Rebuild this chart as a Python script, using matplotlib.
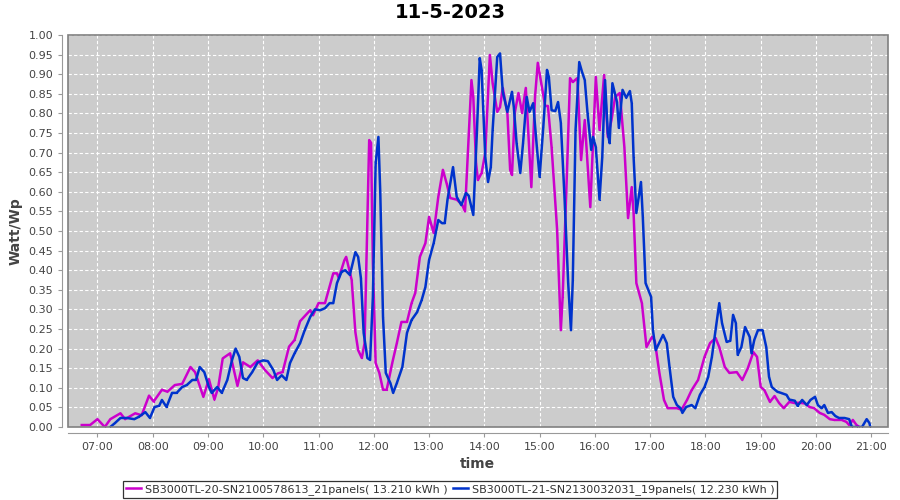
import datetime as dt
import matplotlib
matplotlib.use("Agg")
import matplotlib.pyplot as plt
import matplotlib.dates as mdates
from matplotlib.patches import Rectangle

# series 1: SB3000TL-20 (magenta)
sn20_time = [
    "06:43", "06:52", "07:00", "07:08", "07:14", "07:25", "07:30", "07:41", "07:48", "07:56",
    "08:01", "08:10", "08:16", "08:24", "08:32", "08:41", "08:46", "08:55", "09:01", "09:07",
    "09:11", "09:16", "09:24", "09:32", "09:38", "09:46", "09:54", "10:02", "10:10", "10:16",
    "10:21", "10:28", "10:34", "10:40", "10:51", "10:54", "11:00", "11:07", "11:16", "11:20",
    "11:22", "11:28", "11:30", "11:36", "11:40", "11:43", "11:47", "11:50", "11:55", "11:57",
    "11:59", "12:02", "12:06", "12:10", "12:14", "12:20", "12:25", "12:30", "12:36", "12:41",
    "12:45", "12:50", "12:56", "13:00", "13:05", "13:10", "13:15", "13:19", "13:23", "13:30",
    "13:36", "13:39", "13:46", "13:48", "13:51", "13:53", "13:57", "14:01", "14:06", "14:09",
    "14:14", "14:17", "14:20", "14:25", "14:28", "14:30", "14:33", "14:37", "14:41", "14:45",
    "14:51", "14:55", "14:58", "15:03", "15:06", "15:09", "15:13", "15:19", "15:23", "15:25",
    "15:30", "15:33", "15:36", "15:41", "15:45", "15:49", "15:55", "16:01", "16:05", "16:10",
    "16:14", "16:18", "16:22", "16:27", "16:32", "16:36", "16:40", "16:42", "16:45", "16:51",
    "16:56", "17:02", "17:05", "17:10", "17:15", "17:19", "17:29", "17:34", "17:40", "17:45",
    "17:52", "17:59", "18:05", "18:11", "18:15", "18:21", "18:26", "18:34", "18:40", "18:46",
    "18:52", "18:56", "19:00", "19:04", "19:10", "19:15", "19:20", "19:25", "19:31", "19:37",
    "19:42", "19:48", "19:53", "19:58", "20:04", "20:09", "20:15", "20:20", "20:28", "20:33",
    "20:36", "20:40", "20:44", "20:47",
]
sn20_watt = [
    0.005, 0.005, 0.020, 0.000, 0.020, 0.035, 0.020, 0.035, 0.030, 0.080,
    0.065, 0.095, 0.090, 0.107, 0.110, 0.153, 0.140, 0.077, 0.122, 0.070,
    0.100, 0.175, 0.188, 0.105, 0.165, 0.153, 0.170, 0.145, 0.125, 0.137,
    0.140, 0.205, 0.222, 0.270, 0.298, 0.285, 0.316, 0.316, 0.392, 0.392,
    0.380, 0.425, 0.434, 0.375, 0.242, 0.196, 0.176, 0.214, 0.732, 0.725,
    0.418, 0.163, 0.138, 0.095, 0.095, 0.163, 0.214, 0.268, 0.268, 0.316,
    0.342, 0.434, 0.469, 0.536, 0.495, 0.587, 0.656, 0.622, 0.584, 0.580,
    0.567, 0.550, 0.885, 0.842, 0.673, 0.630, 0.648, 0.699, 0.949, 0.877,
    0.804, 0.816, 0.865, 0.801, 0.656, 0.643, 0.801, 0.852, 0.801, 0.865,
    0.612, 0.842, 0.929, 0.860, 0.819, 0.819, 0.714, 0.503, 0.247, 0.332,
    0.673, 0.890, 0.880, 0.890, 0.681, 0.783, 0.561, 0.893, 0.758, 0.898,
    0.740, 0.783, 0.842, 0.852, 0.714, 0.533, 0.612, 0.546, 0.367, 0.316,
    0.204, 0.230, 0.220, 0.138, 0.069, 0.048, 0.048, 0.044, 0.069, 0.094,
    0.120, 0.179, 0.214, 0.227, 0.204, 0.153, 0.138, 0.140, 0.120, 0.150,
    0.191, 0.179, 0.102, 0.094, 0.064, 0.079, 0.061, 0.048, 0.064, 0.061,
    0.062, 0.060, 0.051, 0.048, 0.036, 0.031, 0.020, 0.018, 0.018, 0.013,
    0.005, 0.018, 0.005, 0.000,
]

# series 2: SB3000TL-21 (blue)
sn21_time = [
    "07:14", "07:19", "07:25", "07:32", "07:40", "07:45", "07:52", "07:57", "08:02", "08:07",
    "08:10", "08:15", "08:21", "08:26", "08:32", "08:37", "08:43", "08:47", "08:51", "08:56",
    "09:01", "09:04", "09:10", "09:15", "09:21", "09:26", "09:30", "09:34", "09:38", "09:42",
    "09:48", "09:54", "10:00", "10:05", "10:11", "10:15", "10:20", "10:25", "10:29", "10:34",
    "10:40", "10:45", "10:51", "10:56", "11:02", "11:07", "11:12", "11:16", "11:20", "11:25",
    "11:29", "11:34", "11:40", "11:43", "11:46", "11:49", "11:53", "11:56", "11:59", "12:02",
    "12:05", "12:07", "12:10", "12:13", "12:18", "12:21", "12:25", "12:31", "12:36", "12:41",
    "12:47", "12:52", "12:56", "13:00", "13:05", "13:10", "13:14", "13:17", "13:20", "13:26",
    "13:30", "13:35", "13:40", "13:43", "13:48", "13:52", "13:55", "13:57", "14:01", "14:04",
    "14:07", "14:09", "14:14", "14:17", "14:20", "14:25", "14:30", "14:32", "14:35", "14:39",
    "14:42", "14:46", "14:49", "14:53", "14:57", "15:00", "15:04", "15:08", "15:10", "15:13",
    "15:17", "15:20", "15:23", "15:27", "15:31", "15:34", "15:36", "15:39", "15:43", "15:46",
    "15:49", "15:52", "15:56", "15:58", "16:01", "16:05", "16:08", "16:11", "16:14", "16:16",
    "16:19", "16:24", "16:26", "16:30", "16:34", "16:38", "16:40", "16:42", "16:45", "16:50",
    "16:52", "16:55", "17:01", "17:03", "17:06", "17:14", "17:18", "17:21", "17:25", "17:29",
    "17:33", "17:35", "17:39", "17:45", "17:49", "17:54", "17:59", "18:03", "18:07", "18:10",
    "18:15", "18:18", "18:23", "18:27", "18:30", "18:33", "18:35", "18:39", "18:43", "18:48",
    "18:50", "18:53", "18:57", "19:02", "19:06", "19:09", "19:12", "19:18", "19:22", "19:28",
    "19:31", "19:37", "19:40", "19:45", "19:50", "19:54", "19:59", "20:02", "20:06", "20:09",
    "20:13", "20:17", "20:21", "20:25", "20:31", "20:36", "20:39", "20:44", "20:50", "20:55",
    "20:58", "20:59",
]
sn21_watt = [
    0.000, 0.010, 0.023, 0.023, 0.020, 0.026, 0.038, 0.023, 0.051, 0.054,
    0.069, 0.051, 0.087, 0.087, 0.102, 0.107, 0.120, 0.120, 0.153, 0.140,
    0.102, 0.087, 0.102, 0.087, 0.120, 0.170, 0.200, 0.179, 0.125, 0.120,
    0.140, 0.165, 0.170, 0.168, 0.145, 0.120, 0.132, 0.120, 0.163, 0.188,
    0.214, 0.247, 0.281, 0.300, 0.298, 0.303, 0.316, 0.316, 0.367, 0.396,
    0.400, 0.388, 0.446, 0.434, 0.380, 0.240, 0.176, 0.171, 0.332, 0.673,
    0.740, 0.600, 0.281, 0.138, 0.112, 0.087, 0.112, 0.153, 0.240, 0.273,
    0.293, 0.324, 0.357, 0.426, 0.469, 0.528, 0.520, 0.520, 0.580, 0.663,
    0.587, 0.566, 0.597, 0.590, 0.541, 0.758, 0.941, 0.911, 0.689, 0.625,
    0.663, 0.758, 0.944, 0.953, 0.855, 0.804, 0.855, 0.816, 0.724, 0.648,
    0.724, 0.842, 0.804, 0.826, 0.714, 0.638, 0.766, 0.911, 0.893, 0.808,
    0.806, 0.829, 0.776, 0.587, 0.367, 0.247, 0.375, 0.758, 0.931, 0.906,
    0.885, 0.801, 0.707, 0.740, 0.714, 0.580, 0.689, 0.885, 0.750, 0.724,
    0.877, 0.829, 0.763, 0.860, 0.840, 0.857, 0.826, 0.689, 0.546, 0.625,
    0.536, 0.367, 0.332, 0.247, 0.196, 0.235, 0.214, 0.153, 0.077, 0.056,
    0.048, 0.036, 0.051, 0.056, 0.048, 0.082, 0.102, 0.128, 0.179, 0.230,
    0.316, 0.265, 0.217, 0.220, 0.286, 0.265, 0.184, 0.204, 0.255, 0.230,
    0.188, 0.222, 0.247, 0.247, 0.204, 0.128, 0.102, 0.090, 0.087, 0.082,
    0.070, 0.067, 0.054, 0.069, 0.056, 0.069, 0.077, 0.056, 0.048, 0.056,
    0.036, 0.038, 0.028, 0.023, 0.023, 0.020, 0.000, 0.000, 0.000, 0.020,
    0.010, 0.000,
]

labels = [
    "SB3000TL-20-SN2100578613_21panels( 13.210 kWh )",
    "SB3000TL-21-SN2130032031_19panels( 12.230 kWh )",
]
colors = ["#cc00cc", "#0033cc"]

day = dt.date(2023, 5, 11)


def to_dt(times):
    return [dt.datetime.combine(day, dt.datetime.strptime(t, "%H:%M").time()) for t in times]


fig = plt.figure(figsize=(9, 5), dpi=100)
ax = fig.add_axes([0.0755, 0.146, 0.911, 0.784])
ax.set_facecolor("#cccccc")

for times, vals, c, lab in [(sn20_time, sn20_watt, colors[0], labels[0]),
                            (sn21_time, sn21_watt, colors[1], labels[1])]:
    ax.plot(to_dt(times), vals, color=c, lw=1.8, marker="s", markersize=0.8,
            markeredgewidth=0, solid_joinstyle="round", label=lab)

ax.set_ylim(0, 1.0)
ax.set_yticks([i * 0.05 for i in range(21)])
ax.yaxis.set_major_formatter(matplotlib.ticker.FormatStrFormatter("%.2f"))
ax.set_xlim(dt.datetime.combine(day, dt.time(6, 28)), dt.datetime.combine(day, dt.time(21, 18)))
ax.xaxis.set_major_locator(mdates.HourLocator())
ax.xaxis.set_major_formatter(mdates.DateFormatter("%H:%M"))

ax.grid(True, color="white", linestyle=(0, (3, 2)), linewidth=0.8)
ax.set_axisbelow(True)

for side in ["top", "right"]:
    ax.spines[side].set_visible(False)
for side in ["bottom", "left"]:
    ax.spines[side].set_position(("outward", 4))
    ax.spines[side].set_color("#999999")
ax.add_patch(Rectangle((0, 0), 1, 1, transform=ax.transAxes, fill=False,
                       edgecolor="#808080", lw=1.2, zorder=5, clip_on=False))
ax.tick_params(colors="#999999", labelcolor="#444444", labelsize=8, length=3)

ax.set_xlabel("time", fontsize=10, fontweight="bold", color="#444444", labelpad=4)
ax.set_ylabel("Watt/Wp", fontsize=10, fontweight="bold", color="#444444", labelpad=4)
fig.suptitle("11-5-2023", fontsize=14, fontweight="bold", y=0.995)

leg = fig.legend(loc="lower center", bbox_to_anchor=(0.5, 0.0), ncol=2, fontsize=8,
                 frameon=True, fancybox=False, edgecolor="black", handlelength=1.4,
                 handletextpad=0.3, columnspacing=0.5, borderpad=0.25, borderaxespad=0.2)
leg.get_frame().set_linewidth(0.9)
for t in leg.get_texts():
    t.set_color("#333333")

fig.savefig("out.png", dpi=100)
